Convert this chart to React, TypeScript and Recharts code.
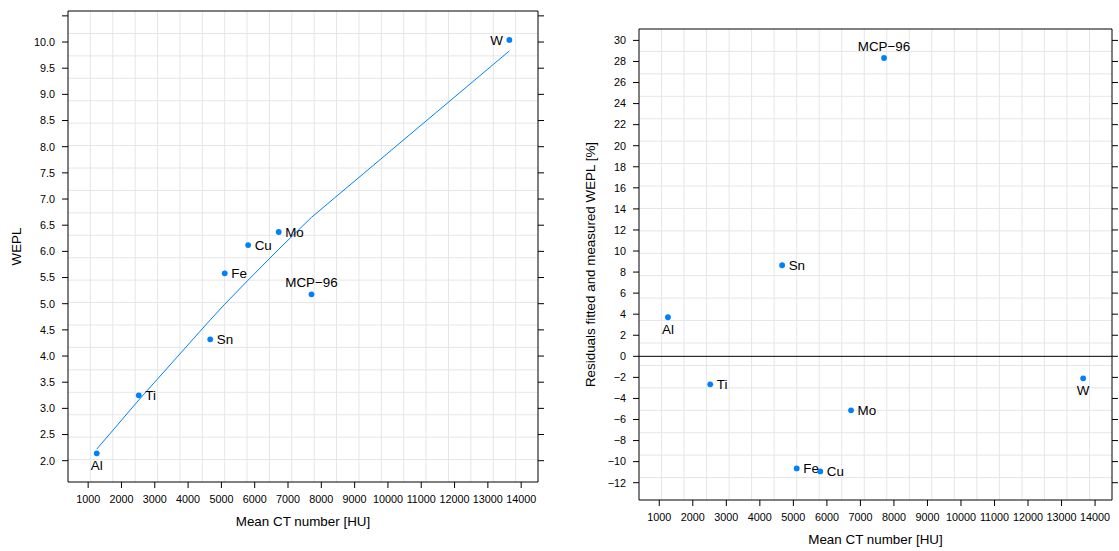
import React from "react";
import {
  ComposedChart,
  Scatter,
  Line,
  XAxis,
  YAxis,
  CartesianGrid,
  ReferenceLine,
} from "recharts";

// Calibration materials, sorted by mean CT number
const materials = ["Al", "Ti", "Sn", "Fe", "Cu", "Mo", "MCP\u221296", "W"];
const ctNumber = [1258, 2520, 4665, 5100, 5803, 6721, 7705, 13645];
const wepl = [2.14, 3.25, 4.32, 5.58, 6.12, 6.37, 5.18, 10.04];
const fittedWepl = [2.22, 3.16, 4.69, 4.99, 5.45, 6.04, 6.65, 9.83];
const residualPct = [3.71, -2.66, 8.65, -10.65, -10.93, -5.13, 28.33, -2.09];

const ctTicks = [
  1000, 2000, 3000, 4000, 5000, 6000, 7000, 8000, 9000, 10000, 11000, 12000,
  13000, 14000,
];
const weplTicks = [
  2.0, 2.5, 3.0, 3.5, 4.0, 4.5, 5.0, 5.5, 6.0, 6.5, 7.0, 7.5, 8.0, 8.5, 9.0,
  9.5, 10.0, 10.5,
];
const weplTickLabels = [
  "2.0", "2.5", "3.0", "3.5", "4.0", "4.5", "5.0", "5.5", "6.0", "6.5", "7.0",
  "7.5", "8.0", "8.5", "9.0", "9.5", "10.0", "",
];
const residualTicks = [
  -12, -10, -8, -6, -4, -2, 0, 2, 4, 6, 8, 10, 12, 14, 16, 18, 20, 22, 24, 26,
  28, 30,
];

const FONT = '"Liberation Sans", Arial, Helvetica, sans-serif';
const BLUE = "#0080ff";
const GRID = "#e6e6e6";

type Side = "left" | "right" | "top" | "bottom";

const weplLabelSide: Record<string, Side> = {
  Al: "bottom",
  "MCP\u221296": "top",
  W: "left",
};
const residualLabelSide: Record<string, Side> = {
  Al: "bottom",
  "MCP\u221296": "top",
  W: "bottom",
};

const weplPoints = materials.map((name, i) => ({
  name,
  ct: ctNumber[i],
  value: wepl[i],
}));
const fitPoints = materials.map((name, i) => ({
  name,
  ct: ctNumber[i],
  fitted: fittedWepl[i],
}));
const residualPoints = materials.map((name, i) => ({
  name,
  ct: ctNumber[i],
  value: residualPct[i],
}));

const minus = (v: number) => String(v).replace("-", "\u2212");
const blank = () => "";

// 20 evenly spaced grid lines across the panel
const gridLines = (start: number, size: number) =>
  Array.from({ length: 20 }, (_, i) => start + (size * (i + 1)) / 21);

function labelledDot(sides: Record<string, Side>) {
  return (props: any) => {
    const { cx, cy, payload } = props;
    const side = sides[payload.name] ?? "right";
    let tx = cx;
    let ty = cy + 4.7;
    let anchor: "start" | "middle" | "end" = "middle";
    if (side === "right") {
      tx = cx + 6.5;
      anchor = "start";
    } else if (side === "left") {
      tx = cx - 6.5;
      anchor = "end";
    } else if (side === "top") {
      ty = cy - 7;
    } else {
      ty = cy + 16.5;
    }
    return (
      <g>
        <circle cx={cx} cy={cy} r={2.9} fill={BLUE} />
        <text
          x={tx}
          y={ty}
          textAnchor={anchor}
          fontSize={13.4}
          fontFamily={FONT}
          fill="#000"
        >
          {payload.name}
        </text>
      </g>
    );
  };
}

const xTitle = (props: any) => {
  const { viewBox, value } = props;
  return (
    <text
      x={viewBox.x + viewBox.width / 2}
      y={viewBox.y + 44}
      textAnchor="middle"
      fontSize={13.4}
      fontFamily={FONT}
      fill="#000"
    >
      {value}
    </text>
  );
};

const yTitle = (dx: number) => (props: any) => {
  const { viewBox, value } = props;
  const x = viewBox.x + dx;
  const y = viewBox.y + viewBox.height / 2;
  return (
    <text
      x={x}
      y={y}
      transform={`rotate(-90, ${x}, ${y})`}
      textAnchor="middle"
      fontSize={13.4}
      fontFamily={FONT}
      fill="#000"
    >
      {value}
    </text>
  );
};

const tickStyle = { fontSize: 10.8, fill: "#000", fontFamily: FONT };
const lineStyle = { stroke: "#000", strokeWidth: 1 };
const X_DOMAIN: [number, number] = [395, 14505];

function WeplPanel() {
  return (
    <ComposedChart
      width={560}
      height={551}
      margin={{ top: 10, right: 21, bottom: 39, left: 0 }}
    >
      <CartesianGrid
        stroke={GRID}
        verticalCoordinatesGenerator={({ offset }: any) =>
          gridLines(offset.left, offset.width)
        }
        horizontalCoordinatesGenerator={({ offset }: any) =>
          gridLines(offset.top, offset.height)
        }
      />
      <XAxis
        type="number"
        dataKey="ct"
        domain={X_DOMAIN}
        ticks={ctTicks}
        interval={0}
        height={30}
        tickSize={6}
        tickMargin={7}
        tick={tickStyle}
        axisLine={lineStyle}
        tickLine={lineStyle}
        allowDataOverflow
        label={{ value: "Mean CT number [HU]", content: xTitle }}
      />
      <XAxis
        xAxisId="top"
        orientation="top"
        type="number"
        domain={X_DOMAIN}
        ticks={ctTicks}
        interval={0}
        height={1}
        tickSize={6}
        tick={tickStyle}
        tickFormatter={blank}
        axisLine={lineStyle}
        tickLine={lineStyle}
        allowDataOverflow
      />
      <YAxis
        type="number"
        domain={[1.593, 10.593]}
        ticks={weplTicks}
        interval={0}
        width={68}
        tickSize={6}
        tickMargin={7}
        tick={tickStyle}
        tickFormatter={(v: number) => weplTickLabels[weplTicks.indexOf(v)]}
        axisLine={lineStyle}
        tickLine={lineStyle}
        allowDataOverflow
        label={{ value: "WEPL", content: yTitle(21) }}
      />
      <YAxis
        yAxisId="right"
        orientation="right"
        type="number"
        domain={[1.593, 10.593]}
        ticks={weplTicks}
        interval={0}
        width={1}
        tickSize={6}
        tick={tickStyle}
        tickFormatter={blank}
        axisLine={lineStyle}
        tickLine={lineStyle}
        allowDataOverflow
      />
      <Line
        data={fitPoints}
        dataKey="fitted"
        type="linear"
        stroke={BLUE}
        strokeWidth={1}
        dot={false}
        isAnimationActive={false}
      />
      <Scatter
        data={weplPoints}
        dataKey="value"
        shape={labelledDot(weplLabelSide)}
        isAnimationActive={false}
      />
    </ComposedChart>
  );
}

function ResidualPanel() {
  return (
    <ComposedChart
      width={559}
      height={551}
      margin={{ top: 28, right: 6, bottom: 21, left: 0 }}
    >
      <CartesianGrid
        stroke={GRID}
        verticalCoordinatesGenerator={({ offset }: any) =>
          gridLines(offset.left, offset.width)
        }
        horizontalCoordinatesGenerator={({ offset }: any) =>
          gridLines(offset.top, offset.height)
        }
      />
      <XAxis
        type="number"
        dataKey="ct"
        domain={X_DOMAIN}
        ticks={ctTicks}
        interval={0}
        height={30}
        tickSize={6}
        tickMargin={7}
        tick={tickStyle}
        axisLine={lineStyle}
        tickLine={lineStyle}
        allowDataOverflow
        label={{ value: "Mean CT number [HU]", content: xTitle }}
      />
      <XAxis
        xAxisId="top"
        orientation="top"
        type="number"
        domain={X_DOMAIN}
        ticks={ctTicks}
        interval={0}
        height={1}
        tickSize={6}
        tick={tickStyle}
        tickFormatter={blank}
        axisLine={lineStyle}
        tickLine={lineStyle}
        allowDataOverflow
      />
      <YAxis
        type="number"
        domain={[-13.644, 31.083]}
        ticks={residualTicks}
        interval={0}
        width={79}
        tickSize={6}
        tickMargin={7}
        tick={tickStyle}
        tickFormatter={minus}
        axisLine={lineStyle}
        tickLine={lineStyle}
        allowDataOverflow
        label={{
          value: "Residuals fitted and measured WEPL [%]",
          content: yTitle(35),
        }}
      />
      <YAxis
        yAxisId="right"
        orientation="right"
        type="number"
        domain={[-13.644, 31.083]}
        ticks={residualTicks}
        interval={0}
        width={1}
        tickSize={6}
        tick={tickStyle}
        tickFormatter={blank}
        axisLine={lineStyle}
        tickLine={lineStyle}
        allowDataOverflow
      />
      <ReferenceLine y={0} stroke="#000" strokeWidth={1} />
      <Scatter
        data={residualPoints}
        dataKey="value"
        shape={labelledDot(residualLabelSide)}
        isAnimationActive={false}
      />
    </ComposedChart>
  );
}

export default function App() {
  return (
    <div
      style={{
        position: "absolute",
        left: 0,
        top: 0,
        width: 1119,
        height: 551,
        background: "#fff",
      }}
    >
      <div style={{ position: "absolute", left: 0, top: 0 }}>
        <WeplPanel />
      </div>
      <div style={{ position: "absolute", left: 560, top: 0 }}>
        <ResidualPanel />
      </div>
    </div>
  );
}
